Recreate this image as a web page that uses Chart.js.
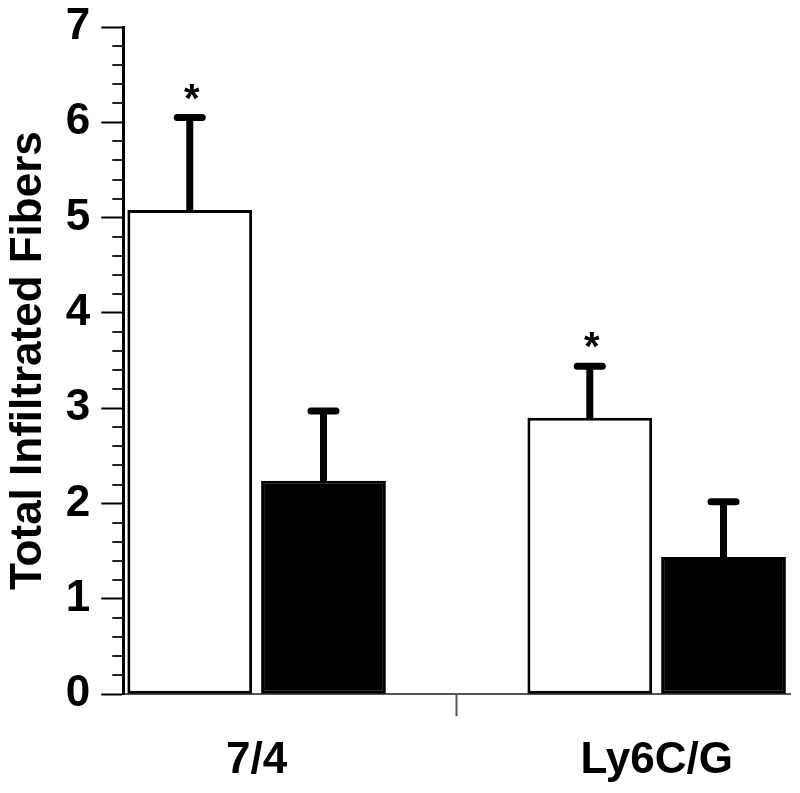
<!DOCTYPE html>
<html><head><meta charset="utf-8">
<script src="https://cdn.jsdelivr.net/npm/chart.js@4.4.1/dist/chart.umd.min.js"></script>
<style>html,body{margin:0;padding:0;background:#fff;}#wrap{width:800px;height:793px;}</style>
</head><body><div id="wrap"><canvas id="c" width="800" height="793"></canvas></div>
<script>
// ---- data ----
const categories = ['7/4', 'Ly6C/G'];
const whiteMeans = [5.08, 2.90];
const whiteErrors = [0.97, 0.54];
const blackMeans = [2.24, 1.44];
const blackErrors = [0.73, 0.58];
const significant = [true, true];
const yTitle = 'Total Infiltrated Fibers';
const yTickLabels = ['0', '1', '2', '3', '4', '5', '6', '7'];

// ---- layout helpers ----
const groupX = i => 1 + 3 * i;            // group centres on a 0..5 linear axis
const dividerX = 2.5;                      // boundary tick between the groups
const xTickValues = [groupX(0), dividerX, groupX(1)];
const isInt = v => Math.abs(v - Math.round(v)) < 1e-6;
const FONT = 'Liberation Sans';

function makeSet(means, errors, fill) {
  return {
    data: means.map((v, i) => ({ x: groupX(i), y: v })),
    errors: errors,
    backgroundColor: fill,
    borderColor: '#000',
    borderWidth: 3,
    borderSkipped: false,
    categoryPercentage: 1.337,
    barPercentage: 0.933
  };
}

const minorTicks = {
  id: 'minorTicks',
  afterDraw(chart) {
    const s = chart.scales.y, ctx = chart.ctx;
    ctx.save();
    ctx.strokeStyle = '#222';
    ctx.lineWidth = 2;
    s.ticks.forEach(t => {
      if (!isInt(t.value)) {
        const y = Math.round(s.getPixelForValue(t.value));
        ctx.beginPath();
        ctx.moveTo(s.right - 11, y);
        ctx.lineTo(s.right, y);
        ctx.stroke();
      }
    });
    ctx.restore();
  }
};

const errorBars = {
  id: 'errorBars',
  afterDatasetsDraw(chart) {
    const ctx = chart.ctx, ys = chart.scales.y;
    chart.data.datasets.forEach((ds, d) => {
      const meta = chart.getDatasetMeta(d);
      meta.data.forEach((el, i) => {
        const top = ys.getPixelForValue(ds.data[i].y + ds.errors[i]);
        ctx.save();
        ctx.strokeStyle = '#000';
        ctx.lineWidth = 7;
        ctx.lineCap = 'butt';
        ctx.beginPath();
        ctx.moveTo(el.x, el.y + 1);
        ctx.lineTo(el.x, top);
        ctx.stroke();
        ctx.lineCap = 'round';
        ctx.beginPath();
        ctx.moveTo(el.x - 12.5, top);
        ctx.lineTo(el.x + 12.5, top);
        ctx.stroke();
        if (d === 0 && significant[i]) {
          ctx.fillStyle = '#000';
          ctx.font = 'bold 40px "' + FONT + '"';
          ctx.textAlign = 'center';
          ctx.textBaseline = 'alphabetic';
          ctx.fillText('*', el.x + 2, top - 6);
        }
        ctx.restore();
      });
    });
  }
};

new Chart(document.getElementById('c'), {
  type: 'bar',
  data: {
    datasets: [
      makeSet(whiteMeans, whiteErrors, '#ffffff'),
      makeSet(blackMeans, blackErrors, '#000000')
    ]
  },
  options: {
    responsive: false,
    animation: false,
    devicePixelRatio: 1,
    layout: { padding: { left: 2, top: 27, right: 10, bottom: -12 } },
    plugins: { legend: { display: false }, tooltip: { enabled: false } },
    scales: {
      x: {
        type: 'linear', min: 0, max: 5, offset: false,
        afterBuildTicks: s => { s.ticks = xTickValues.map(v => ({ value: v })); },
        grid: {
          offset: false,
          drawOnChartArea: false, tickLength: 22, tickWidth: 2,
          tickColor: c => (c.tick && Math.abs(c.tick.value - dividerX) < 1e-6) ? '#555' : 'rgba(0,0,0,0)'
        },
        border: { display: true, color: '#555', width: 2 },
        ticks: {
          autoSkip: false, maxRotation: 0, padding: 18, color: '#000',
          font: { family: FONT, size: 44, weight: 'bold' },
          callback: v => {
            const i = categories.findIndex((c, k) => Math.abs(groupX(k) - v) < 1e-6);
            return i >= 0 ? categories[i] : '';
          }
        }
      },
      y: {
        min: 0, max: 7,
        grid: {
          drawOnChartArea: false, tickLength: 22, tickWidth: 2,
          tickColor: c => (c.tick && isInt(c.tick.value)) ? '#000' : 'rgba(0,0,0,0)'
        },
        border: { display: true, color: '#000', width: 3 },
        ticks: {
          stepSize: 0.2, autoSkip: false, padding: 11, color: '#000',
          font: { family: FONT, size: 44, weight: 'bold', lineHeight: 0.7 },
          callback: v => isInt(v) ? yTickLabels[Math.round(v)] : ''
        },
        title: {
          display: true, text: yTitle, color: '#000',
          font: { family: FONT, size: 44, weight: 'bold' },
          padding: { top: 0, bottom: 0 }
        }
      }
    }
  },
  plugins: [minorTicks, errorBars]
});
</script>
</body></html>
